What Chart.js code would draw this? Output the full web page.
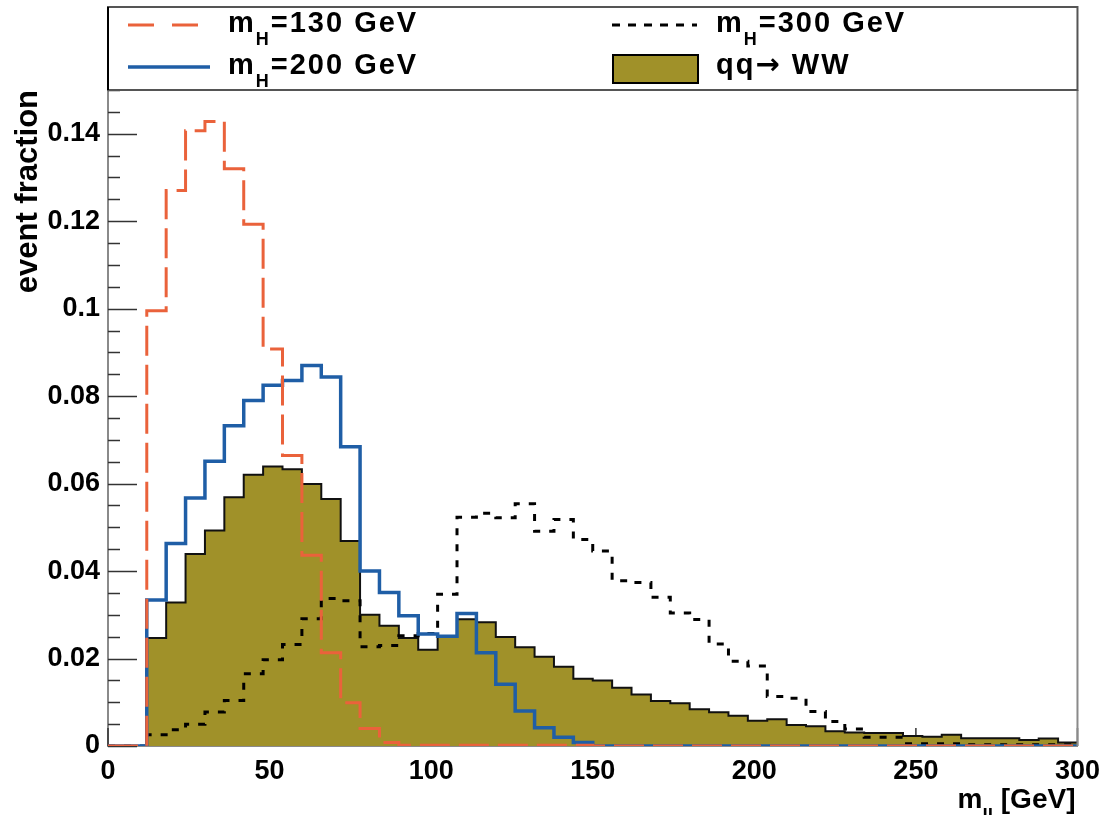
<!DOCTYPE html>
<html>
<head>
<meta charset="utf-8">
<script src="https://cdn.jsdelivr.net/npm/chart.js@4/dist/chart.umd.min.js"></script>
<style>
  body { margin: 0; background: #fff; }
  #wrap { width: 1109px; height: 815px; }
</style>
</head>
<body>
<div id="wrap"><canvas id="mllChart" width="1109" height="815"></canvas></div>
<script>
// Histogram bins: lower edges in GeV (6 GeV bins), upper edge of the last bin
const binLow = [0, 6, 12, 18, 24, 30, 36, 42, 48, 54, 60, 66, 72, 78, 84, 90, 96, 102, 108, 114,
  120, 126, 132, 138, 144, 150, 156, 162, 168, 174, 180, 186, 192, 198, 204, 210, 216, 222, 228, 234,
  240, 246, 252, 258, 264, 270, 276, 282, 288, 294];
const xMax = 300;

// event fraction per bin
const mH130 = [0, 0, 0.0995, 0.127, 0.1407, 0.1428, 0.132, 0.1193, 0.0908, 0.0664,
  0.0436, 0.0213, 0.0099, 0.004, 0.0008, 0.0002, 0.0002, 0.0002, 0.0002, 0.0002,
  0.0002, 0.0002, 0.0002, 0.0002, 0.0002, 0, 0, 0, 0, 0,
  0, 0, 0, 0, 0, 0, 0, 0, 0, 0,
  0, 0, 0, 0, 0, 0, 0, 0, 0, 0];

const mH200 = [0, 0, 0.0334, 0.0463, 0.0567, 0.0651, 0.0732, 0.079, 0.0825, 0.0836,
  0.087, 0.0844, 0.0684, 0.04, 0.0351, 0.0298, 0.0256, 0.0251, 0.0303, 0.0213,
  0.0141, 0.008, 0.0042, 0.002, 0.0008, 0, 0, 0, 0, 0,
  0, 0, 0, 0, 0, 0, 0, 0, 0, 0,
  0, 0, 0, 0, 0, 0, 0, 0, 0, 0];

const mH300 = [0, 0, 0.0026, 0.0037, 0.005, 0.0078, 0.0104, 0.0165, 0.0197, 0.0232,
  0.0291, 0.0337, 0.0332, 0.0227, 0.023, 0.0252, 0.0257, 0.0347, 0.0523, 0.0532,
  0.0522, 0.0554, 0.0491, 0.0518, 0.0472, 0.0446, 0.0378, 0.0374, 0.034, 0.0304,
  0.0289, 0.0233, 0.0194, 0.0183, 0.0113, 0.0109, 0.0079, 0.0056, 0.0039, 0.002,
  0.002, 0.0005, 0.0005, 0.0005, 0.0003, 0.0003, 0.0003, 0.0003, 0.0003, 0.0003];

const qqWW = [0, 0, 0.0247, 0.0328, 0.0439, 0.0493, 0.0569, 0.062, 0.0639, 0.0633,
  0.0599, 0.0565, 0.0469, 0.03, 0.0275, 0.0247, 0.022, 0.0251, 0.029, 0.0283,
  0.0249, 0.0226, 0.0204, 0.0181, 0.0154, 0.015, 0.0133, 0.0118, 0.0103, 0.0098,
  0.0084, 0.0077, 0.0069, 0.0058, 0.0061, 0.0048, 0.0045, 0.0034, 0.0031, 0.003,
  0.003, 0.0023, 0.0021, 0.0026, 0.0018, 0.0018, 0.0018, 0.0014, 0.0017, 0.0008];

const seriesLabels = ['m_H=130 GeV', 'm_H=200 GeV', 'm_H=300 GeV', 'qq\u2192 WW'];
const xTicks = [0, 50, 100, 150, 200, 250, 300];
const yMax = 0.15;

const ORANGE = '#ea623b';
const BLUE = '#1f5ea6';
const OLIVE = '#a09129';
const FONT = '"Liberation Sans", Arial, sans-serif';
const ARROW_FONT = '"DejaVu Sans", sans-serif';

Chart.defaults.font.family = FONT;
Chart.defaults.color = '#000';

// one point per lower bin edge, plus the upper edge of the last bin
function histPoints(values) {
    const pts = binLow.map((x, i) => ({ x: x, y: values[i] }));
    pts.push({ x: xMax, y: values[values.length - 1] });
    return pts;
}

// plain text run; the arrow comes from DejaVu, Liberation's one is tiny
function drawRun(ctx, str, x, y, size, draw) {
    let cx = x;
    str.split(/(\u2192)/).forEach(piece => {
        if (!piece) return;
        ctx.font = piece === '\u2192' ? 'bold ' + size + 'px ' + ARROW_FONT : 'bold ' + size + 'px ' + FONT;
        if (draw) ctx.fillText(piece, cx, y);
        cx += ctx.measureText(piece).width;
    });
    return cx - x;
}

// text with "_X" or "_{..}" subscript
function drawRich(ctx, text, x, y, size, subSize, measureOnly) {
    const parts = text.split('_');
    let cx = x;
    parts.forEach((p, i) => {
        let main = p;
        if (i > 0) {
            const braced = p.charAt(0) === '{';
            const sub = braced ? p.slice(1, p.indexOf('}')) : p.charAt(0);
            main = braced ? p.slice(p.indexOf('}') + 1) : p.slice(1);
            cx += drawRun(ctx, sub, cx, y + subSize * 0.7, subSize, !measureOnly);
        }
        cx += drawRun(ctx, main, cx, y, size, !measureOnly);
    });
    return cx - x;
}

// inward tick marks like the original frame
const innerTicks = {
    id: 'innerTicks',
    beforeDatasetsDraw(chart) {
        const { ctx, chartArea: a, scales: { x, y } } = chart;
        ctx.save();
        ctx.strokeStyle = '#333';
        ctx.lineWidth = 1.5;
        for (let i = 0; i <= 30; i++) {
            const v = i * 0.005;
            const py = Math.round(y.getPixelForValue(v)) + 0.5;
            const len = i % 4 === 0 ? 29 : 12;
            ctx.beginPath();
            ctx.moveTo(a.left, py);
            ctx.lineTo(a.left + len, py);
            ctx.stroke();
        }
        xTicks.forEach(v => {
            const px = x.getPixelForValue(v);
            ctx.beginPath();
            ctx.moveTo(px, a.bottom);
            ctx.lineTo(px, a.bottom - 18);
            ctx.stroke();
        });
        ctx.restore();
    }
};

// boxed two-column legend and the x axis title
const boxLegend = {
    id: 'boxLegend',
    afterDraw(chart) {
        const { ctx, chartArea: a } = chart;
        ctx.save();
        // right frame line
        ctx.strokeStyle = '#8a8a8a';
        ctx.lineWidth = 2;
        ctx.beginPath();
        ctx.moveTo(a.right, a.top);
        ctx.lineTo(a.right, a.bottom);
        ctx.stroke();
        // legend box
        ctx.strokeStyle = '#555';
        ctx.strokeRect(a.left, 7, a.right - a.left, a.top - 7);
        ctx.strokeStyle = '#000';
        ctx.beginPath();
        ctx.moveTo(a.left, 7);
        ctx.lineTo(a.left, a.top);
        ctx.stroke();

        const cols = [{ s: 128, e: 210, t: 228 }, { s: 612, e: 697, t: 716 }];
        const rows = [32, 74];
        const place = [[0, 0], [0, 1], [1, 0], [1, 1]];
        ctx.textBaseline = 'alphabetic';
        ctx.fillStyle = '#000';
        chart.data.datasets.forEach((ds, i) => {
            const c = cols[place[i][0]];
            const base = rows[place[i][1]];
            if (ds.fill) {
                ctx.fillStyle = ds.backgroundColor;
                ctx.fillRect(c.s + 1, base - 19, c.e - c.s, 28);
                ctx.strokeStyle = '#000';
                ctx.lineWidth = 2;
                ctx.setLineDash([]);
                ctx.strokeRect(c.s + 1, base - 19, c.e - c.s, 28);
            } else {
                ctx.strokeStyle = ds.borderColor;
                ctx.lineWidth = ds.borderWidth;
                ctx.setLineDash(ds.legendDash || []);
                ctx.beginPath();
                ctx.moveTo(c.s, base - 7);
                ctx.lineTo(c.e, base - 7);
                ctx.stroke();
                ctx.setLineDash([]);
            }
            ctx.fillStyle = '#000';
            if ('letterSpacing' in ctx) ctx.letterSpacing = '2px';
            drawRich(ctx, ds.label, c.t, base, 29, 18);
            if ('letterSpacing' in ctx) ctx.letterSpacing = '0px';
        });

        // x axis title, right aligned under the frame
        const title = 'm_{ll} [GeV]';
        const w = drawRich(ctx, title, 0, 0, 28, 19, true);
        drawRich(ctx, title, a.right - 2 - w, 808, 28, 19);
        ctx.restore();
    }
};

const ctx = document.getElementById('mllChart').getContext('2d');
new Chart(ctx, {
    type: 'line',
    data: {
        datasets: [
            {
                label: seriesLabels[0],
                data: histPoints(mH130),
                stepped: true,
                borderColor: ORANGE,
                borderWidth: 3,
                borderDash: [30, 9],
                legendDash: [26, 18],
                pointRadius: 0,
                fill: false,
                order: 1
            },
            {
                label: seriesLabels[1],
                data: histPoints(mH200),
                stepped: true,
                borderColor: BLUE,
                borderWidth: 3.5,
                pointRadius: 0,
                fill: false,
                order: 2
            },
            {
                label: seriesLabels[2],
                data: histPoints(mH300),
                stepped: true,
                borderColor: '#000',
                borderWidth: 3,
                borderDash: [7, 9],
                legendDash: [8, 8],
                pointRadius: 0,
                fill: false,
                order: 3
            },
            {
                label: seriesLabels[3],
                data: histPoints(qqWW),
                stepped: true,
                borderColor: '#111',
                borderWidth: 2,
                backgroundColor: OLIVE,
                pointRadius: 0,
                fill: 'origin',
                order: 4
            }
        ]
    },
    options: {
        responsive: false,
        animation: false,
        layout: { padding: { top: 90, right: 29, left: 0, bottom: 0 } },
        plugins: {
            legend: { display: false },
            tooltip: { enabled: false }
        },
        scales: {
            x: {
                type: 'linear',
                min: 0,
                max: xMax,
                afterFit: s => { s.height = 69; },
                afterBuildTicks: s => { s.ticks = xTicks.map(v => ({ value: v })); },
                grid: { display: false, drawTicks: false },
                border: { display: true, color: '#8a8a8a', width: 2 },
                ticks: {
                    padding: 9,
                    font: { size: 27, weight: 'bold' },
                    maxRotation: 0
                }
            },
            y: {
                min: 0,
                max: yMax,
                afterFit: s => { s.width = 108; },
                grid: { display: false, drawTicks: false },
                border: { display: true, color: '#8a8a8a', width: 2 },
                ticks: {
                    stepSize: 0.02,
                    includeBounds: false,
                    padding: 8,
                    font: { size: 27, weight: 'bold' },
                    callback: v => String(parseFloat(v.toFixed(2)))
                },
                title: {
                    display: true,
                    text: 'event fraction',
                    align: 'end',
                    font: { size: 31, weight: 'bold' },
                    padding: { top: 10, bottom: 0 }
                }
            }
        }
    },
    plugins: [innerTicks, boxLegend]
});
</script>
</body>
</html>
